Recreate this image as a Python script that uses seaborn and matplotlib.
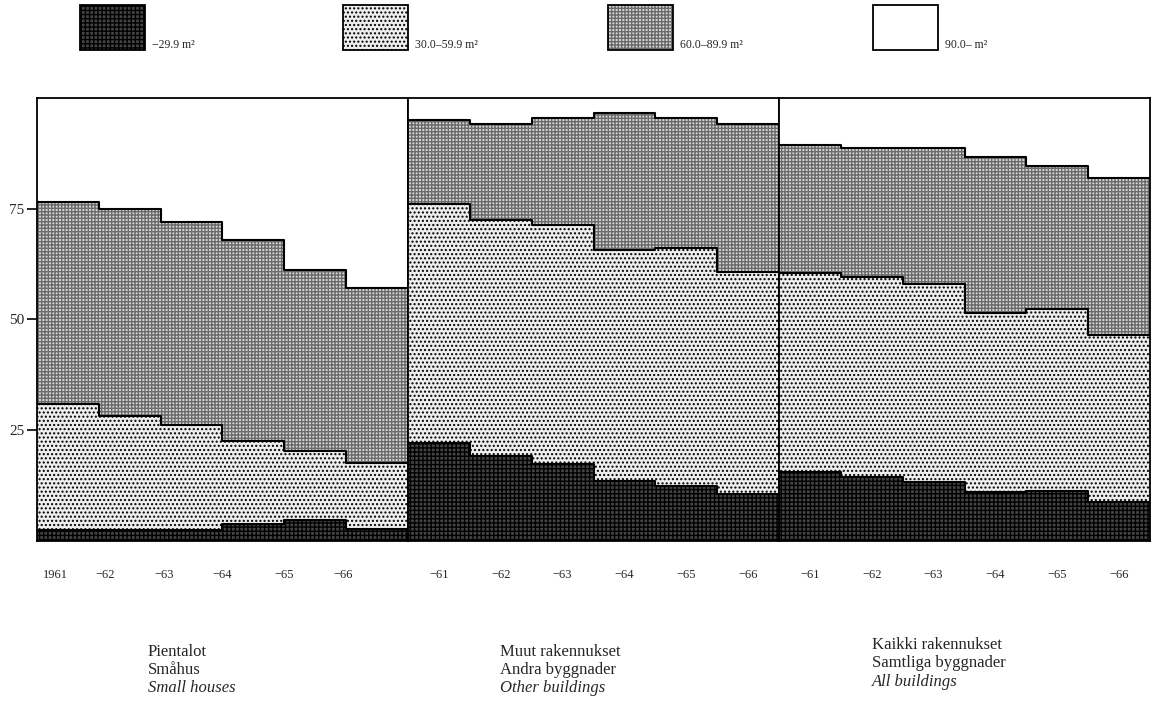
import numpy as np
import pandas as pd
import matplotlib
matplotlib.use("Agg")
import matplotlib.pyplot as plt
import seaborn as sns
from matplotlib.patches import Rectangle

# ---------------- data (percent of dwellings by floor area) ----------------
size_classes = ["\u221229.9 m\u00b2", "30.0\u201359.9 m\u00b2", "60.0\u201389.9 m\u00b2", "90.0\u2013 m\u00b2"]
years = [1961, 1962, 1963, 1964, 1965, 1966]

small_u30 = [2.5, 2.5, 2.5, 3.8, 4.7, 2.7]
small_30_60 = [28.4, 25.7, 23.7, 18.8, 15.6, 14.9]
small_60_90 = [45.6, 46.7, 45.8, 45.3, 40.9, 39.5]
small_90 = [23.5, 25.1, 28.0, 32.1, 38.8, 42.9]

other_u30 = [22.1, 19.1, 17.3, 13.5, 12.4, 10.6]
other_30_60 = [54.0, 53.4, 54.1, 52.3, 53.7, 50.2]
other_60_90 = [18.9, 21.6, 24.1, 30.8, 29.4, 33.3]
other_90 = [5.0, 5.9, 4.5, 3.4, 4.5, 5.9]

all_u30 = [15.5, 14.4, 13.3, 11.0, 11.2, 8.8]
all_30_60 = [45.1, 45.1, 44.8, 40.4, 41.1, 37.8]
all_60_90 = [28.8, 29.2, 30.6, 35.3, 32.4, 35.4]
all_90 = [10.6, 11.3, 11.3, 13.3, 15.3, 18.0]

panel_titles = [
    ["Pientalot", "Småhus", "Small houses"],
    ["Muut rakennukset", "Andra byggnader", "Other buildings"],
    ["Kaikki rakennukset", "Samtliga byggnader", "All buildings"],
]
year_labels = [
    ["1961", "\u221262", "\u221263", "\u221264", "\u221265", "\u221266"],
    ["\u221261", "\u221262", "\u221263", "\u221264", "\u221265", "\u221266"],
    ["\u221261", "\u221262", "\u221263", "\u221264", "\u221265", "\u221266"],
]
y_ticks = [25, 50, 75]

panels = [
    [small_u30, small_30_60, small_60_90, small_90],
    [other_u30, other_30_60, other_60_90, other_90],
    [all_u30, all_30_60, all_60_90, all_90],
]

# ---------------- style ----------------
sns.set_theme(style="white")
plt.rcParams["font.family"] = ["Liberation Serif", "DejaVu Serif"]
plt.rcParams["hatch.linewidth"] = 1.0

styles = [
    dict(facecolor="#444444", edgecolor="#000000", hatch="++++"),
    dict(facecolor="#eeeeee", edgecolor="#000000", hatch="...."),
    dict(facecolor="#d8d8d8", edgecolor="#6a6a6a", hatch="+++++"),
    dict(facecolor="#ffffff", edgecolor="#ffffff", hatch=None),
]

W, H = 1156, 702
fig = plt.figure(figsize=(W / 100, H / 100), dpi=100)
left, right, top, bottom = 37, 1150, 98, 541
pw = (right - left) / 3
axes = []
for i in range(3):
    ax = fig.add_axes([(left + i * pw) / W, 1 - bottom / H, pw / W, (bottom - top) / H])
    axes.append(ax)

tick_pos = [
    [0.3, 1.1, 2.05, 3.0, 4.0, 4.95],
    [0.5, 1.5, 2.5, 3.5, 4.5, 5.5],
    [0.5, 1.5, 2.5, 3.5, 4.5, 5.5],
]

x_edges = np.arange(len(years) + 1)
for i, (ax, series) in enumerate(zip(axes, panels)):
    arr = np.array(series, dtype=float)
    cum = np.vstack([np.zeros(arr.shape[1]), np.cumsum(arr, axis=0)])
    for k in range(4):
        lo = np.append(cum[k], cum[k][-1])
        hi = np.append(cum[k + 1], cum[k + 1][-1])
        st = styles[k]
        ax.fill_between(x_edges, lo, hi, step="post", facecolor=st["facecolor"],
                        edgecolor=st["edgecolor"], hatch=st["hatch"], linewidth=0)
    for k in range(1, 4):
        yb = np.append(cum[k], cum[k][-1])
        df = pd.DataFrame({"x": x_edges, "y": yb})
        sns.lineplot(data=df, x="x", y="y", drawstyle="steps-post", color="black",
                     lw=1.5, ax=ax)
    ax.set_xlim(0, len(years))
    ax.set_ylim(0, 100)
    ax.set_xlabel("")
    ax.set_ylabel("")
    ax.set_xticks(tick_pos[i])
    ax.set_xticklabels(year_labels[i], fontsize=9)
    ax.tick_params(axis="x", length=0, pad=20)
    if i == 0:
        ax.set_yticks(y_ticks)
        ax.set_yticklabels([str(t) for t in y_ticks], fontsize=11)
        ax.tick_params(axis="y", left=True, length=7, width=1.2, direction="out",
                       color="black", pad=2)
    else:
        ax.set_yticks([])
    for s in ax.spines.values():
        s.set_color("black")
        s.set_linewidth(1.3)
        s.set_visible(True)

# ---------------- legend ----------------
box_x = [80, 343, 608, 873]
for k, bx in enumerate(box_x):
    st = styles[k]
    fig.add_artist(Rectangle((bx / W, 1 - 50 / H), 65 / W, 45 / H, transform=fig.transFigure,
                             facecolor=st["facecolor"], edgecolor=st["edgecolor"],
                             hatch=st["hatch"], linewidth=0))
    fig.add_artist(Rectangle((bx / W, 1 - 50 / H), 65 / W, 45 / H, transform=fig.transFigure,
                             facecolor="none", edgecolor="black", linewidth=1.3))
    fig.text((bx + 72) / W, 1 - 45 / H, size_classes[k], fontsize=8.5, va="center", ha="left")

# ---------------- group titles ----------------
title_x = [148, 500, 872]
title_y = [[652, 670, 688], [652, 670, 688], [645, 663, 682]]
for i in range(3):
    for j, txt in enumerate(panel_titles[i]):
        fig.text(title_x[i] / W, 1 - title_y[i][j] / H, txt, fontsize=12, va="center",
                 ha="left", style="italic" if j == 2 else "normal")

fig.savefig("out.png", dpi=100)
